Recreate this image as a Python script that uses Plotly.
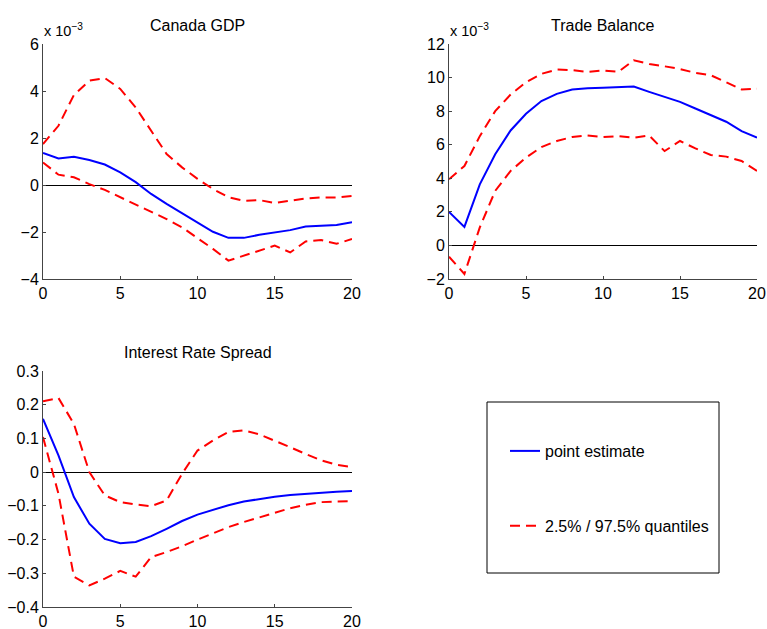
import plotly.graph_objects as go

W, H = 767, 629
horizon = list(range(21))

# Canada GDP (x 1e-3)
gdp_point = [1.36, 1.13, 1.20, 1.06, 0.87, 0.54, 0.12, -0.38, -0.80, -1.20, -1.60, -1.99,
             -2.25, -2.25, -2.12, -2.02, -1.92, -1.77, -1.72, -1.70, -1.59]
gdp_upper = [1.74, 2.52, 3.83, 4.44, 4.55, 4.09, 3.30, 2.30, 1.32, 0.75, 0.26, -0.17,
             -0.52, -0.67, -0.64, -0.77, -0.67, -0.57, -0.53, -0.53, -0.47]
gdp_lower = [0.96, 0.44, 0.33, 0.04, -0.21, -0.52, -0.84, -1.13, -1.45, -1.80, -2.26, -2.72,
             -3.22, -3.00, -2.80, -2.58, -2.87, -2.40, -2.34, -2.50, -2.30]

# Trade Balance (x 1e-3)
tb_point = [2.00, 1.10, 3.64, 5.43, 6.85, 7.84, 8.60, 9.03, 9.29, 9.37, 9.40, 9.43,
            9.47, 9.15, 8.83, 8.55, 8.16, 7.76, 7.37, 6.81, 6.42]
tb_upper = [3.94, 4.73, 6.51, 8.00, 8.99, 9.72, 10.22, 10.48, 10.44, 10.34, 10.42, 10.34,
            11.03, 10.81, 10.67, 10.51, 10.28, 10.14, 9.72, 9.29, 9.33]
tb_lower = [-0.67, -1.70, 1.07, 3.25, 4.44, 5.23, 5.86, 6.22, 6.46, 6.55, 6.46, 6.51,
            6.42, 6.55, 5.62, 6.22, 5.78, 5.39, 5.29, 5.03, 4.44]

# Interest Rate Spread
irs_point = [0.158, 0.050, -0.074, -0.153, -0.198, -0.211, -0.207, -0.190, -0.168, -0.145, -0.126,
             -0.111, -0.098, -0.087, -0.079, -0.073, -0.068, -0.064, -0.061, -0.058, -0.056]
irs_upper = [0.210, 0.220, 0.143, 0.000, -0.069, -0.089, -0.096, -0.101, -0.084, -0.005, 0.064,
             0.094, 0.119, 0.124, 0.112, 0.094, 0.074, 0.054, 0.035, 0.022, 0.015]
irs_lower = [0.104, -0.064, -0.310, -0.336, -0.316, -0.293, -0.310, -0.252, -0.237, -0.220, -0.200,
             -0.181, -0.163, -0.148, -0.134, -0.120, -0.107, -0.097, -0.089, -0.087, -0.086]

titles = ["Canada GDP", "Trade Balance", "Interest Rate Spread"]
y_ranges = [[-4, 6], [-2, 12], [-0.4, 0.3]]
y_ticks = [[-4, -2, 0, 2, 4, 6], [-2, 0, 2, 4, 6, 8, 10, 12],
           [-0.4, -0.3, -0.2, -0.1, 0, 0.1, 0.2, 0.3]]
y_ticktext = [None, None, ["−0.4", "−0.3", "−0.2", "−0.1", "0", "0.1", "0.2", "0.3"]]
x_ticks = [0, 5, 10, 15, 20]

BLUE = "rgb(0,0,255)"
RED = "rgb(255,0,0)"
FONT = "Liberation Sans, Arial, sans-serif"
FS = 16

# pixel boxes (left, right, top, bottom)
boxes = [(43, 352, 44, 279), (449, 757, 44, 279), (43, 352, 371, 607)]

series = [(gdp_point, gdp_upper, gdp_lower),
          (tb_point, tb_upper, tb_lower),
          (irs_point, irs_upper, irs_lower)]

fig = go.Figure()
for i, (pt, up, lo) in enumerate(series):
    xa = "x" if i == 0 else f"x{i+1}"
    ya = "y" if i == 0 else f"y{i+1}"
    fig.add_trace(go.Scatter(x=horizon, y=pt, mode="lines", xaxis=xa, yaxis=ya,
                             line=dict(color=BLUE, width=2),
                             name="point estimate", legendgroup="p",
                             showlegend=(i == 0)))
    fig.add_trace(go.Scatter(x=horizon, y=up, mode="lines", xaxis=xa, yaxis=ya,
                             line=dict(color=RED, width=2, dash="10px,6px"),
                             name="2.5% / 97.5% quantiles", legendgroup="q",
                             showlegend=(i == 0)))
    fig.add_trace(go.Scatter(x=horizon, y=lo, mode="lines", xaxis=xa, yaxis=ya,
                             line=dict(color=RED, width=2, dash="10px,6px"),
                             name="2.5% / 97.5% quantiles", legendgroup="q",
                             showlegend=False))

layout = dict(width=W, height=H, margin=dict(l=0, r=0, t=0, b=0, autoexpand=False),
              paper_bgcolor="white", plot_bgcolor="white",
              font=dict(family=FONT, size=FS, color="black"),
              legend=dict(x=505 / W, y=1 - 434 / H, xanchor="left", yanchor="top",
                          bgcolor="rgba(0,0,0,0)", borderwidth=0,
                          font=dict(size=FS), tracegroupgap=51,
                          traceorder="grouped"),
              shapes=[], annotations=[])

for i, (l, r, t, b) in enumerate(boxes):
    sx = "" if i == 0 else str(i + 1)
    layout[f"xaxis{sx}"] = dict(domain=[l / W, r / W], range=[0, 20], anchor=f"y{sx}",
                                tickvals=x_ticks, ticks="inside", ticklen=3,
                                showline=True, linecolor="#444", linewidth=1,
                                tickcolor="#444", showgrid=False, zeroline=False,
                                tickfont=dict(size=FS), fixedrange=True, automargin=False)
    yd = dict(domain=[1 - b / H, 1 - t / H], range=y_ranges[i], anchor=f"x{sx}",
              tickvals=y_ticks[i], ticks="inside", ticklen=3,
              showline=True, linecolor="#444", linewidth=1, tickcolor="#444",
              showgrid=False, zeroline=True, zerolinecolor="black", zerolinewidth=1,
              tickfont=dict(size=FS), fixedrange=True, automargin=False)
    if y_ticktext[i] is not None:
        yd["ticktext"] = y_ticktext[i]
    layout[f"yaxis{sx}"] = yd
    layout["annotations"].append(dict(text=titles[i], xref="paper", yref="paper",
                                      x=(l + r) / 2 / W, y=1 - t / H, xanchor="center",
                                      yanchor="bottom", yshift=8, showarrow=False,
                                      font=dict(size=FS)))
    if i < 2:
        layout["annotations"].append(dict(text="x 10<sup>−3</sup>", xref="paper", yref="paper",
                                          x=l / W, y=1 - t / H, xanchor="left",
                                          yanchor="bottom", yshift=3, xshift=-1,
                                          showarrow=False, font=dict(size=14.5)))

# legend box
layout["shapes"].append(dict(type="rect", xref="paper", yref="paper",
                             x0=487 / W, x1=719 / W, y0=1 - 573 / H, y1=1 - 402 / H,
                             line=dict(color="black", width=1), fillcolor="rgba(0,0,0,0)"))

fig.update_layout(**layout)
fig.write_html("out.html", config={"displayModeBar": False},
               post_script="document.body.style.margin='0';document.body.style.overflow='hidden';")
